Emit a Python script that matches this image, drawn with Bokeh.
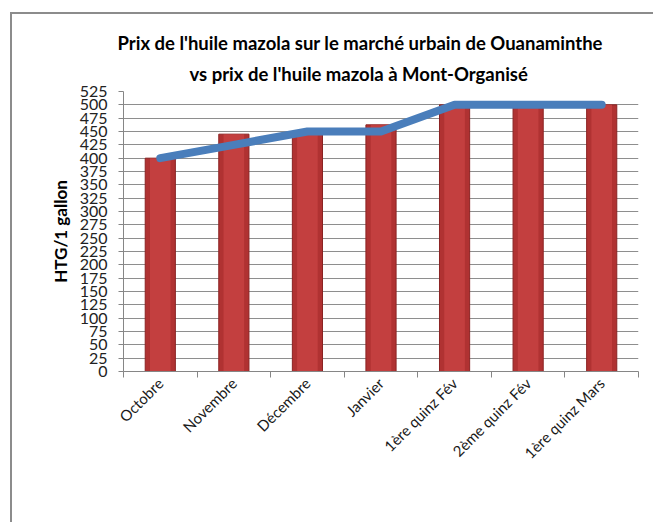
from math import pi
from bokeh.plotting import figure
from bokeh.models import (Range1d, FixedTicker, Title, Legend, LegendItem,
                          ColumnDataSource)
from bokeh.embed import file_html
from bokeh.resources import INLINE

categories = ["Octobre", "Novembre", "Décembre", "Janvier",
              "1ère quinz Fév", "2ème quinz Fév", "1ère quinz Mars"]
prix_ouanaminthe = [400, 445, 445, 462.5, 500, 500, 500]
prix_mont_organise = [400, 425, 450, 450, 500, 500, 500]
y_ticks = list(range(0, 526, 25))
title_lines = ["Prix de l'huile mazola sur le marché urbain de Ouanaminthe",
               "vs prix de l'huile mazola à Mont-Organisé"]

xs = [i + 0.5 for i in range(len(categories))]
src = ColumnDataSource(dict(x=xs, bar=prix_ouanaminthe, line=prix_mont_organise))

FONT = "Lato"

p = figure(frame_width=515, frame_height=280, output_backend="svg",
           toolbar_location=None,
           x_range=Range1d(0, len(categories)), y_range=Range1d(0, 525),
           min_border_left=111, min_border_top=77, min_border_right=17,
           min_border_bottom=100, margin=(12, 0, 0, 10), title=None)
p.styles = {"border-left": "2px solid #8c8c8c", "border-top": "2px solid #8c8c8c"}
p.outline_line_color = None
p.background_fill_color = "white"
p.border_fill_color = "white"

# grid
p.xgrid.grid_line_color = None
p.ygrid.grid_line_color = "#8e8e8e"
p.ygrid.grid_line_width = 1

# y axis
p.yaxis.ticker = FixedTicker(ticks=y_ticks)
p.yaxis.axis_line_color = "#868686"
p.yaxis.major_tick_line_color = "#868686"
p.yaxis.major_tick_out = 5
p.yaxis.major_tick_in = 0
p.yaxis.minor_tick_line_color = None
p.yaxis.major_label_text_font = FONT
p.yaxis.major_label_text_font_size = "16px"
p.yaxis.major_label_text_color = "#222222"
p.yaxis.major_label_standoff = 11
p.yaxis.axis_label = "HTG/1 gallon"
p.yaxis.axis_label_text_font = FONT
p.yaxis.axis_label_text_font_style = "bold"
p.yaxis.axis_label_text_font_size = "17px"
p.yaxis.axis_label_text_color = "#000000"
p.yaxis.axis_label_standoff = 6

# x axis: labels at centres, ticks at category boundaries
p.xaxis.ticker = FixedTicker(ticks=xs, minor_ticks=list(range(len(categories) + 1)))
p.xaxis.major_label_overrides = {x: c for x, c in zip(xs, categories)}
p.xaxis.major_tick_line_color = None
p.xaxis.major_tick_out = 0
p.xaxis.major_tick_in = 0
p.xaxis.minor_tick_line_color = "#868686"
p.xaxis.minor_tick_out = 6
p.xaxis.minor_tick_in = 0
p.xaxis.axis_line_color = "#868686"
p.xaxis.major_label_orientation = pi / 4
p.xaxis.major_label_text_font = FONT
p.xaxis.major_label_text_font_size = "15px"
p.xaxis.major_label_text_color = "#1a1a1a"
p.xaxis.major_label_standoff = 3

bars = p.vbar(x="x", top="bar", width=0.41, bottom=0, source=src,
              fill_color="#B03232", line_color="#8B2323", line_width=1)
p.vbar(x="x", top="bar", width=0.28, bottom=0, source=src,
       fill_color="#CC4444", fill_alpha=0.7, line_color=None)
line = p.line(x="x", y="line", source=src, line_color="#4A7EBB", line_width=8,
              line_cap="round", line_join="round")

# title (two lines, second line added first = closest to plot)
p.add_layout(Title(text=title_lines[1], align="left", offset=66, standoff=14,
                   text_font=FONT, text_font_style="bold", text_font_size="18.5px",
                   text_color="#000000"), "above")
p.add_layout(Title(text=title_lines[0], align="left", offset=-6, standoff=0,
                   text_font=FONT, text_font_style="bold", text_font_size="18.5px",
                   text_color="#000000"), "above")

legend = Legend(items=[LegendItem(label="Prix ville Ouanaminthe", renderers=[bars]),
                       LegendItem(label="Prix Mont-Organisé", renderers=[line])],
                orientation="horizontal", location="center",
                glyph_width=38, glyph_height=11, label_standoff=4, spacing=8,
                padding=0, margin=0, border_line_color=None,
                background_fill_alpha=0,
                label_text_font=FONT, label_text_font_size="17px",
                label_text_color="#222222")
p.add_layout(legend, "below")

open("out.html", "w").write(file_html(p, INLINE))
